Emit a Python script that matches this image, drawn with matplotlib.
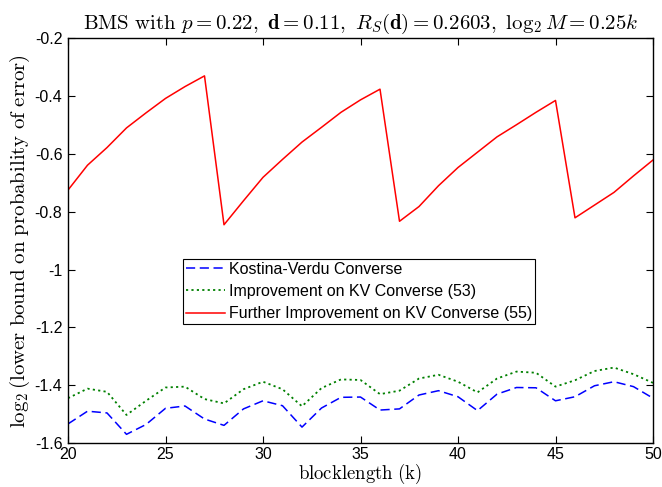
import matplotlib
matplotlib.use("Agg")
import matplotlib.pyplot as plt
import numpy as np

plt.rcParams['font.family'] = ['Liberation Sans', 'DejaVu Sans']
plt.rcParams['mathtext.fontset'] = 'cm'
plt.rcParams['axes.unicode_minus'] = False

k = list(range(20, 51))

kv_converse = [-1.534, -1.490, -1.496, -1.570, -1.536, -1.480, -1.472, -1.517, -1.539, -1.482,
               -1.454, -1.471, -1.545, -1.479, -1.442, -1.441, -1.486, -1.482, -1.434, -1.419,
               -1.440, -1.488, -1.431, -1.408, -1.409, -1.454, -1.440, -1.402, -1.388, -1.405,
               -1.445]

improved_53 = [-1.445, -1.412, -1.423, -1.503, -1.454, -1.408, -1.405, -1.448, -1.463, -1.414,
               -1.388, -1.414, -1.473, -1.410, -1.380, -1.382, -1.431, -1.419, -1.377, -1.364,
               -1.388, -1.425, -1.377, -1.353, -1.357, -1.405, -1.383, -1.351, -1.339, -1.362,
               -1.392]

further_55 = [-0.725, -0.639, -0.578, -0.510, -0.458, -0.408, -0.367, -0.330, -0.845, -0.762,
              -0.681, -0.619, -0.559, -0.508, -0.456, -0.413, -0.376, -0.833, -0.782, -0.710,
              -0.647, -0.594, -0.541, -0.499, -0.456, -0.415, -0.821, -0.777, -0.733, -0.676,
              -0.621]

labels = ['Kostina-Verdu Converse',
          'Improvement on KV Converse (53)',
          'Further Improvement on KV Converse (55)']

xticks = [20, 25, 30, 35, 40, 45, 50]
yticks = [-1.6, -1.4, -1.2, -1.0, -0.8, -0.6, -0.4, -0.2]
yticklabels = ['-1.6', '-1.4', '-1.2', '-1', '-0.8', '-0.6', '-0.4', '-0.2']

W, H = 662, 487
left_px, right_px, top_px, bottom_px = 68, 653, 38.3, 443
fig = plt.figure(figsize=(W / 100, H / 100), dpi=100)
ax = fig.add_axes([left_px / W, (H - bottom_px) / H, (right_px - left_px) / W, (bottom_px - top_px) / H])

ax.plot(k, kv_converse, color=(0, 0, 1), linestyle=(0, (6, 3)), linewidth=1.1, label=labels[0])
ax.plot(k, improved_53, color=(0, 0.5, 0), linestyle=(0, (1.2, 1.8)), linewidth=1.3, label=labels[1])
ax.plot(k, further_55, color=(1, 0, 0), linestyle='-', linewidth=1.1, label=labels[2])

ax.set_xlim(20, 50)
ax.set_ylim(-1.6, -0.2)
ax.set_xticks(xticks)
ax.set_xticklabels([str(v) for v in xticks])
ax.set_yticks(yticks)
ax.set_yticklabels(yticklabels)
ax.tick_params(direction='in', top=True, right=True, length=5, width=0.8, labelsize=11.5)
ax.tick_params(axis='x', pad=3)
ax.tick_params(axis='y', pad=4)
for s in ax.spines.values():
    s.set_linewidth(1.0)

ax.set_title(r'$\mathrm{BMS\ with\ }p=0.22,\ \mathbf{d}=0.11,\ R_S(\mathbf{d})=0.2603,\ \log_2 M=0.25k$',
             fontsize=15, pad=7)
ax.set_xlabel(r'$\mathrm{blocklength\ (k)}$', fontsize=13.5, va='bottom')
ax.xaxis.set_label_coords(0.5, (bottom_px - 486.0) / (bottom_px - top_px))
ax.set_ylabel(r'$\log_2(\mathrm{lower\ bound\ on\ probability\ of\ error})$', fontsize=15, labelpad=2)

leg = ax.legend(loc='lower left', bbox_to_anchor=(0.197, 0.293), borderaxespad=0,
                fontsize=11.5, fancybox=False, framealpha=1, edgecolor='black',
                handlelength=2.4, handletextpad=0.25, labelspacing=0.45, borderpad=0.2)
leg.get_frame().set_linewidth(0.8)

fig.savefig('out.png', dpi=100)
